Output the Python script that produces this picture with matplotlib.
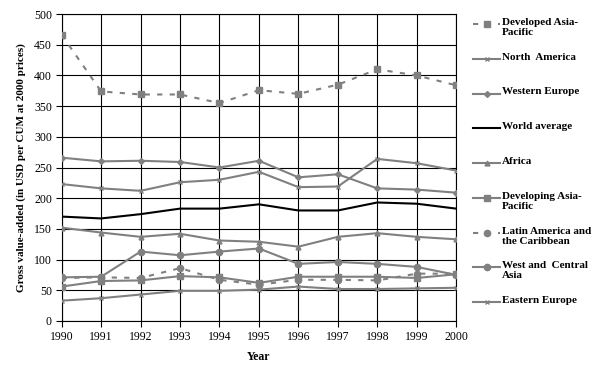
import numpy as np
import matplotlib
matplotlib.use("Agg")
from matplotlib import pyplot as plt
from matplotlib.lines import Line2D

# --- data
years = [1990, 1991, 1992, 1993, 1994, 1995, 1996, 1997, 1998, 1999, 2000]

developed_asia_pacific = [466, 374, 369, 369, 355, 376, 370, 385, 410, 400, 384]
north_america = [223, 216, 212, 226, 230, 243, 218, 219, 264, 257, 245]
western_europe = [266, 260, 261, 259, 250, 261, 234, 239, 216, 214, 209]
world_average = [170, 167, 174, 183, 183, 190, 180, 180, 193, 191, 183]
africa = [152, 144, 137, 142, 131, 129, 121, 137, 143, 137, 133]
developing_asia_pacific = [56, 65, 66, 73, 71, 62, 72, 72, 72, 70, 76]
latin_america = [70, 71, 70, 86, 67, 59, 67, 67, 66, 77, 77]
west_central_asia = [71, 72, 113, 107, 113, 118, 93, 96, 93, 88, 75]
eastern_europe = [33, 37, 43, 49, 49, 51, 56, 52, 52, 53, 54]

labels = [
    "Developed Asia-\nPacific",
    "North  America",
    "Western Europe",
    "World average",
    "Africa",
    "Developing Asia-\nPacific",
    "Latin America and\nthe Caribbean",
    "West and  Central\nAsia",
    "Eastern Europe",
]

series = [
    developed_asia_pacific, north_america, western_europe, world_average,
    africa, developing_asia_pacific, latin_america, west_central_asia,
    eastern_europe,
]

# --- styles (marker, linestyle, colour, markersize)
grey = "#808080"
dash = (0, (2.5, 3.5))
styles = [
    ("s", dash, grey, 4.5),
    ("x", "-", grey, 3.5),
    ("D", "-", grey, 3),
    (None, "-", "black", 0),
    ("^", "-", grey, 3.5),
    ("s", "-", grey, 4.5),
    ("o", dash, grey, 4.5),
    ("o", "-", grey, 4.5),
    ("x", "-", grey, 3),
]

plt.rcParams["font.family"] = ["Liberation Serif", "DejaVu Serif"]

fig = plt.figure(figsize=(6.05, 3.71), dpi=100)
ax = fig.add_axes([0.102, 0.135, 0.652, 0.827])

for vals, (mk, ls, col, ms) in zip(series, styles):
    ax.plot(
        years, vals,
        marker=mk, linestyle=ls, color=col,
        markersize=ms, markeredgecolor=col, markerfacecolor=col,
        linewidth=1.5, zorder=3,
    )

# --- axes
ax.set_xlim(1990, 2000)
ax.set_ylim(0, 500)
ax.set_xticks(years)
ax.set_yticks(np.arange(0, 501, 50))
ax.grid(True, color="black", linewidth=0.8)
ax.set_axisbelow(True)
for sp in ax.spines.values():
    sp.set_color("black")
    sp.set_linewidth(0.8)
ax.tick_params(direction="out", length=4, width=0.8, labelsize=8.5, pad=3)

ax.set_xlabel("Year", fontsize=8.5, fontweight="bold", labelpad=6)
ax.set_ylabel("Gross value-added (in USD per CUM at 2000 prices)",
              fontsize=8, fontweight="bold", labelpad=6)

# --- legend drawn by hand so the handle sits on the first text line
W, H = 605, 371
for i, (lab, (mk, ls, col, ms)) in enumerate(zip(labels, styles)):
    y = 24 + i * 34.75
    yf = 1 - y / H
    x0, x1 = 473 / W, 500 / W
    fig.add_artist(Line2D([x0, x1], [yf, yf], color=col, linestyle=ls,
                          linewidth=1.5, transform=fig.transFigure))
    if mk is not None:
        fig.add_artist(Line2D([(x0 + x1) / 2], [yf], marker=mk, color=col,
                              markersize=ms, transform=fig.transFigure))
    fig.text(502 / W, yf + 6 / H, lab, fontsize=8, fontweight="bold",
             va="top", ha="left", linespacing=1.15)

fig.savefig("out.png", dpi=100)
